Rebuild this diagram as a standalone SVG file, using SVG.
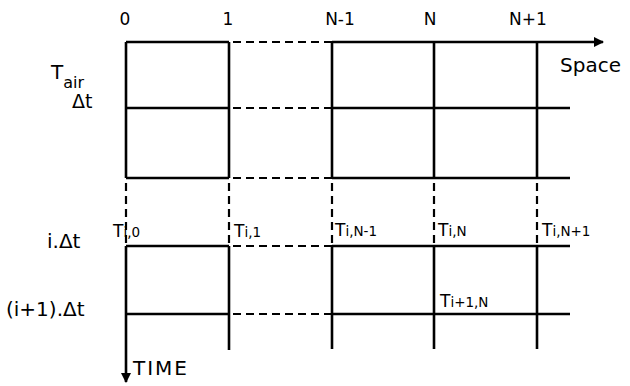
<svg xmlns="http://www.w3.org/2000/svg" width="630" height="386" viewBox="0 0 630 386">
<style>
.ln{stroke:#000;stroke-width:2.6;fill:none;stroke-linecap:butt}
.ds{stroke:#000;stroke-width:2.2;fill:none;stroke-dasharray:8 5}
.t{font-family:"DejaVu Sans","Liberation Sans",sans-serif;fill:#000}
.lb{font-size:17px}
.sb{font-size:13.5px}
</style>
<defs>
<marker id="ah" viewBox="0 0 10 10" refX="9" refY="5" markerWidth="4" markerHeight="4" orient="auto" markerUnits="strokeWidth">
<path d="M0,0 L10,5 L0,10 z" fill="#000"/>
</marker>
</defs>
<rect width="630" height="386" fill="#fff"/>
<g id="connectors">
<line class="ln" x1="126" y1="42" x2="229" y2="42"/>
<line class="ln" x1="332" y1="42" x2="603" y2="42" marker-end="url(#ah)"/>
<line class="ln" x1="126" y1="108" x2="229" y2="108"/>
<line class="ln" x1="332" y1="108" x2="570" y2="108"/>
<line class="ln" x1="126" y1="178" x2="229" y2="178"/>
<line class="ln" x1="332" y1="178" x2="570" y2="178"/>
<line class="ln" x1="126" y1="42" x2="126" y2="178"/>
<line class="ln" x1="229" y1="42" x2="229" y2="178"/>
<line class="ln" x1="332" y1="42" x2="332" y2="178"/>
<line class="ln" x1="434" y1="42" x2="434" y2="178"/>
<line class="ln" x1="537" y1="42" x2="537" y2="178"/>
<line class="ds" x1="233" y1="42" x2="332" y2="42"/>
<line class="ds" x1="233" y1="108" x2="332" y2="108"/>
<line class="ds" x1="233" y1="178" x2="332" y2="178"/>
<line class="ds" x1="233" y1="246" x2="332" y2="246"/>
<line class="ds" x1="233" y1="314" x2="332" y2="314"/>
<line class="ds" x1="126" y1="183" x2="126" y2="246"/>
<line class="ds" x1="229" y1="183" x2="229" y2="246"/>
<line class="ds" x1="332" y1="183" x2="332" y2="246"/>
<line class="ds" x1="434" y1="183" x2="434" y2="246"/>
<line class="ds" x1="537" y1="183" x2="537" y2="246"/>
<line class="ln" x1="126" y1="246" x2="229" y2="246"/>
<line class="ln" x1="332" y1="246" x2="570" y2="246"/>
<line class="ln" x1="126" y1="314" x2="229" y2="314"/>
<line class="ln" x1="332" y1="314" x2="570" y2="314"/>
<line class="ln" x1="126" y1="246" x2="126" y2="382" marker-end="url(#ah)"/>
<line class="ln" x1="229" y1="246" x2="229" y2="350"/>
<line class="ln" x1="332" y1="246" x2="332" y2="349"/>
<line class="ln" x1="434" y1="246" x2="434" y2="349"/>
<line class="ln" x1="537" y1="246" x2="537" y2="349"/>
</g>
<g id="axis-labels">
<text class="t lb" x="125" y="25" text-anchor="middle">0</text>
<text class="t lb" x="228" y="25" text-anchor="middle">1</text>
<text class="t lb" x="340" y="25" text-anchor="middle">N-1</text>
<text class="t lb" x="430" y="25" text-anchor="middle">N</text>
<text class="t lb" x="528" y="25" text-anchor="middle">N+1</text>
<text class="t" font-size="20" x="560" y="72">Space</text>
<text class="t" font-size="20" x="133" y="375" textLength="54">TIME</text>
</g>
<g id="time-labels">
<text class="t" font-size="20" x="51" y="79">T<tspan font-size="16" dy="9">air</tspan></text>
<text class="t" font-size="19" x="72" y="108">Δt</text>
<text class="t" font-size="20" x="47" y="248">i.Δt</text>
<text class="t" font-size="20" x="6" y="316">(i+1).Δt</text>
</g>
<g id="node-labels">
<text class="t lb" x="113" y="237">T<tspan class="sb">i,0</tspan></text>
<text class="t lb" x="234" y="237">T<tspan class="sb">i,1</tspan></text>
<text class="t lb" x="335" y="236">T<tspan class="sb">i,N-1</tspan></text>
<text class="t lb" x="438" y="236">T<tspan class="sb">i,N</tspan></text>
<text class="t lb" x="542" y="236">T<tspan class="sb">i,N+1</tspan></text>
<text class="t lb" x="440" y="307">T<tspan class="sb">i+1,N</tspan></text>
</g>
</svg>
